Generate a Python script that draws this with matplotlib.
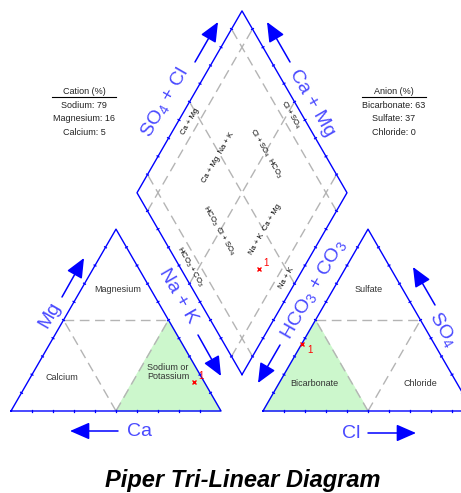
import numpy as np
import matplotlib
matplotlib.use("Agg")
import matplotlib.pyplot as plt

plt.rcParams['font.family'] = ['Liberation Sans', 'DejaVu Sans']
plt.rcParams['mathtext.fontset'] = 'custom'
plt.rcParams['mathtext.rm'] = 'Liberation Sans'
plt.rcParams['mathtext.default'] = 'regular'

# === Data ===
cation_names = ["Sodium", "Magnesium", "Calcium"]
cation_pct = [79, 16, 5]
anion_names = ["Bicarbonate", "Sulfate", "Chloride"]
anion_pct = [63, 37, 0]
sample_ids = ["1"]

# === Geometry (unit triangle side, gap between triangles) ===
S3 = np.sqrt(3) / 2
GAP = 0.2
X0, Y0, U = 11.0, 411.0, 210.0   # pixel of origin and pixels per unit
W, H = 461, 493

BLUE = "#0000ff"
LBLUE = "#4a4aff"
GRAY = "#b4b4b4"
GREEN = "#ccf7cc"


def px(xp, yp):
    return ((xp - X0) / U, (Y0 - yp) / U)


def cat_xy(na, mg):
    return na + mg / 2, mg * S3


def an_xy(cl, so4):
    return 1 + GAP + cl + so4 / 2, so4 * S3


def dia_xy(u, v):
    return 1 + GAP / 2 + 0.5 * u - 0.5 * v, GAP * S3 + S3 * (u + v)


fig = plt.figure(figsize=(W / 100, H / 100), dpi=100)
ax = fig.add_axes([0, 0, 1, 1])
ax.set_xlim(-X0 / U, (W - X0) / U)
ax.set_ylim((Y0 - H) / U, Y0 / U)
ax.axis("off")

# shaded dominant regions
ln = [cat_xy(0.5, 0), cat_xy(1, 0), cat_xy(0.5, 0.5)]
ax.fill([p[0] for p in ln], [p[1] for p in ln], color=GREEN, zorder=1)
an = [an_xy(0, 0), an_xy(0.5, 0), an_xy(0, 0.5)]
ax.fill([p[0] for p in an], [p[1] for p in an], color=GREEN, zorder=1)

# dashed inner lines of the triangles
for f in (cat_xy, an_xy):
    segs = [(f(0.5, 0), f(0, 0.5)), (f(0.5, 0), f(0.5, 0.5)), (f(0, 0.5), f(0.5, 0.5))]
    for a, b in segs:
        ax.plot([a[0], b[0]], [a[1], b[1]], color=GRAY, lw=1, dashes=(7, 4), zorder=2)

# dashed diamond grid
for f in (0.1, 0.5, 0.9):
    a, b = dia_xy(f, 0), dia_xy(f, 1)
    ax.plot([a[0], b[0]], [a[1], b[1]], color=GRAY, lw=1, dashes=(7, 4), zorder=2)
    a, b = dia_xy(0, f), dia_xy(1, f)
    ax.plot([a[0], b[0]], [a[1], b[1]], color=GRAY, lw=1, dashes=(7, 4), zorder=2)

# outlines with ticks
shapes = [
    [cat_xy(0, 0), cat_xy(1, 0), cat_xy(0, 1)],
    [an_xy(0, 0), an_xy(1, 0), an_xy(0, 1)],
    [dia_xy(0, 0), dia_xy(1, 0), dia_xy(1, 1), dia_xy(0, 1)],
]
for pts in shapes:
    closed = pts + [pts[0]]
    ax.plot([p[0] for p in closed], [p[1] for p in closed], color=BLUE, lw=1.0, zorder=4)
    for p0, p1 in zip(closed[:-1], closed[1:]):
        p0, p1 = np.array(p0), np.array(p1)
        d = (p1 - p0) / np.linalg.norm(p1 - p0)
        n = np.array([-d[1], d[0]]) * 0.005
        for i in range(1, 10):
            p = p0 + (p1 - p0) * i / 10
            ax.plot([p[0] - n[0], p[0] + n[0]], [p[1] - n[1], p[1] + n[1]],
                    color=BLUE, lw=0.9, zorder=4)

# === Samples ===
na, mg, ca = [v / 100 for v in cation_pct]
hco3, so4, cl = [v / 100 for v in anion_pct]
cx, cy = cat_xy(na, mg)
axx, ayy = an_xy(cl, so4)
dx, dy = dia_xy(so4 + cl, ca + mg)
for (x, y), off in [((cx, cy), (3, 2)), ((axx, ayy), (4, -7)), ((dx, dy), (3, 2))]:
    ax.plot(x, y, marker="x", color="red", ms=3.5, mew=1, zorder=6)
    ax.annotate(sample_ids[0], (x, y), xytext=off, textcoords="offset points",
                color="red", fontsize=7, zorder=6)

# === Region labels ===
reg = dict(fontsize=6.5, color="#333333", ha="center", va="center", zorder=5)
ax.text(*px(118, 289), "Magnesium", **reg)
ax.text(*px(62, 378), "Calcium", **reg)
ax.text(*px(168, 372), "Sodium or\nPotassium", linespacing=1.1, **reg)
ax.text(*px(369, 289), "Sulfate", **reg)
ax.text(*px(314, 384), "Bicarbonate", **reg)
ax.text(*px(420, 384), "Chloride", **reg)

# facies labels inside the diamond
fac = dict(fontsize=5.5, color="black", ha="center", va="center",
           rotation_mode="anchor", zorder=5)
ax.text(*px(190, 122), "Ca + Mg", rotation=60, **fac)
ax.text(*px(290, 115), "Cl + SO$_4$", rotation=-60, **fac)
ax.text(*px(218, 158), "Ca + Mg  Na + K", rotation=60, **fac)
ax.text(*px(265, 154), "Cl + SO$_4$  HCO$_3$", rotation=-60, **fac)
ax.text(*px(218, 231), "HCO$_3$  Cl + SO$_4$", rotation=-60, **fac)
ax.text(*px(265, 230), "Na + K  Ca + Mg", rotation=60, **fac)
ax.text(*px(190, 267), "HCO$_3$ + CO$_3$", rotation=-60, **fac)
ax.text(*px(287, 278), "Na + K", rotation=60, **fac)

# === Axis labels and arrows ===
lab = dict(fontsize=14, color=LBLUE, ha="center", va="center",
           rotation_mode="anchor", zorder=5)
ax.text(*px(139, 431), "Ca", **lab)
ax.text(*px(351, 433), "Cl", **lab)
ax.text(*px(50, 315), "Mg", rotation=60, **lab)
ax.text(*px(178, 296), "Na + K", rotation=-60, **lab)
ax.text(*px(165, 102), "SO$_4$ + Cl", rotation=60, **lab)
ax.text(*px(312, 103), "Ca + Mg", rotation=-60, **lab)
ax.text(*px(313, 289), "HCO$_3$ + CO$_3$", rotation=60, **lab)
ax.text(*px(443, 329), "SO$_4$", rotation=-60, **lab)

arrows = [((118, 431), (70, 431)), ((368, 433), (416, 433)),
          ((62, 297), (84, 258)), ((198, 335), (221, 376)),
          ((195, 62), (218, 22)), ((290, 62), (267, 22)),
          ((280, 345), (258, 383)), ((435, 305), (413, 267))]
for tail, head in arrows:
    ax.annotate("", xy=px(*head), xytext=px(*tail),
                arrowprops=dict(arrowstyle="-|>,head_length=0.8,head_width=0.35",
                                color=BLUE, lw=1.1, mutation_scale=15,
                                shrinkA=0, shrinkB=0), zorder=5)

# === Summary tables ===
small = dict(fontsize=6.5, color="#222222", ha="center", va="center")
for xc, title, names, vals in [(84, "Cation (%)", cation_names, cation_pct),
                               (394, "Anion (%)", anion_names, anion_pct)]:
    ax.text(*px(xc, 91), title, **small)
    a, b = px(xc - 32, 97), px(xc + 32, 97)
    ax.plot([a[0], b[0]], [a[1], b[1]], color="black", lw=0.8)
    for k, (nm, v) in enumerate(zip(names, vals)):
        ax.text(*px(xc, 105 + 13.5 * k), f"{nm}: {v}", **small)

ax.text(*px(243, 481), "Piper Tri-Linear Diagram", fontsize=17,
        fontweight="bold", fontstyle="italic", ha="center", va="center")

fig.savefig("out.png", dpi=100)
